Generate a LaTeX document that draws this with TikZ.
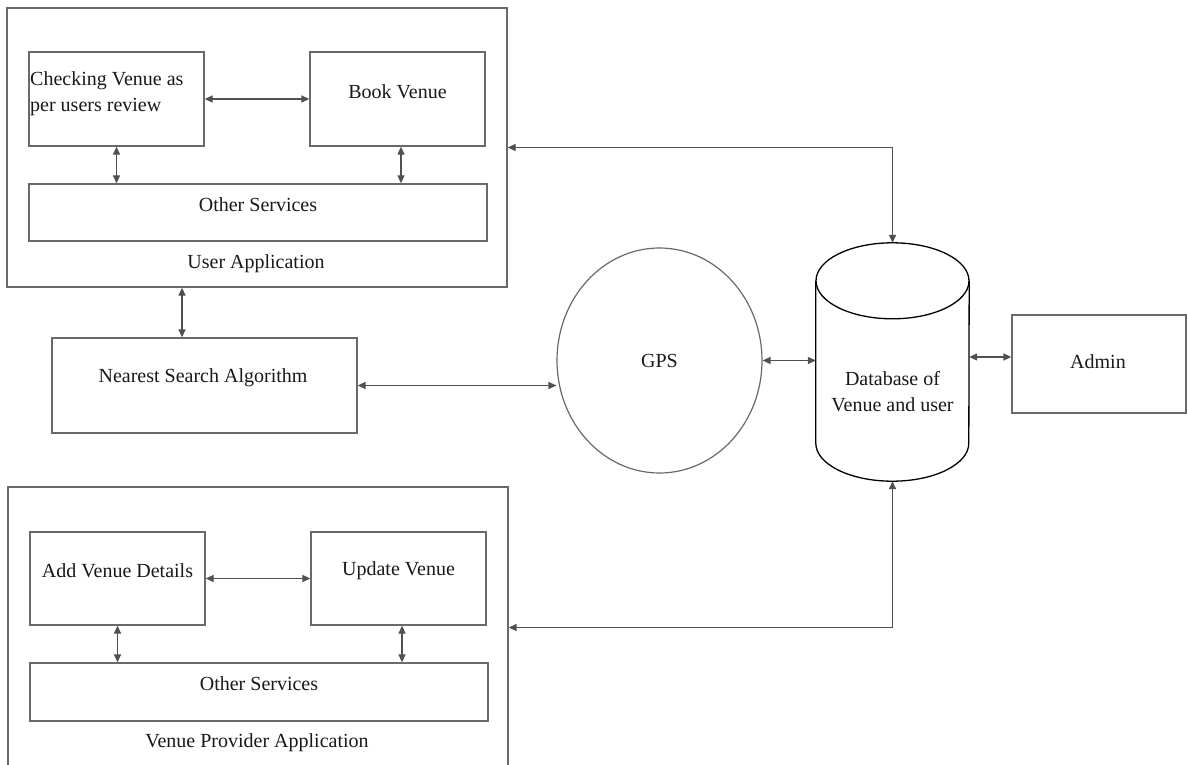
\documentclass[tikz,border=0pt]{standalone}
\usepackage{fontspec}
\setmainfont{Liberation Serif}
\usetikzlibrary{arrows.meta,shapes.geometric,calc}
\definecolor{boxc}{RGB}{105,105,105}
\definecolor{arrc}{RGB}{80,80,80}
\definecolor{txtc}{RGB}{25,25,25}
\begin{document}
\begin{tikzpicture}[x=1pt,y=-1pt,
 box/.style={draw=boxc, line width=1.3pt, rectangle, inner sep=0pt},
 txt/.style={font=\fontsize{20}{26}\selectfont, text=txtc, inner sep=0pt, align=center},
 bi/.style={draw=arrc, line width=1.3pt, {Triangle[length=8pt,width=7pt]}-{Triangle[length=8pt,width=7pt]}},
]
\useasboundingbox (0,0) rectangle (1187,765);
\fill[white] (0,0) rectangle (1187,765);

% User application
\node[box, minimum width=500pt, minimum height=279pt] (ua) at (257,147.5) {};
\node[box, minimum width=175pt, minimum height=94pt] (chk) at (116.5,99) {};
\node[box, minimum width=175pt, minimum height=94pt] (bv) at (397.5,99) {};
\node[box, minimum width=458pt, minimum height=57pt] (os1) at (258,212.5) {};

% Nearest search
\node[box, minimum width=305pt, minimum height=95pt] (nsa) at (204.5,385.5) {};

% GPS
\node[ellipse, draw=boxc, line width=1.2pt, minimum width=205pt, minimum height=225pt, inner sep=0pt] (gps) at (659.5,360.5) {};

% Database (cylinder)
\node[minimum width=153pt, minimum height=238pt, inner sep=0pt] (db) at (892.5,362) {};
\draw[black, line width=1.3pt] ($(db.north)+(0,38)$) ellipse [x radius=76.5pt, y radius=38pt];
\draw[black, line width=1.3pt] ($(db.north west)+(0,38)$) -- ($(db.south west)+(0,-38)$)
  arc[start angle=180, end angle=360, x radius=76.5pt, y radius=38pt] -- ($(db.north east)+(0,38)$);

% Admin
\node[box, minimum width=174pt, minimum height=98pt] (admin) at (1099,364) {};

% Venue provider application
\node[box, minimum width=500pt, minimum height=281pt] (vp) at (258,627.5) {};
\node[box, minimum width=175pt, minimum height=93pt] (avd) at (117.5,578.5) {};
\node[box, minimum width=175pt, minimum height=93pt] (uv) at (398.5,578.5) {};
\node[box, minimum width=458pt, minimum height=58pt] (os2) at (259,692) {};

% Texts
\node[txt, anchor=north west, align=left] (chkt) at (30,71) {Checking Venue as\\per users review};
\node[txt] (bvt) at ([yshift=7pt]bv.center) {Book Venue};
\node[txt] (os1t) at ([yshift=7.5pt]os1.center) {Other Services};
\node[txt] (uat) at (256,264) {User Application};
\node[txt] (nsat) at (203,378) {Nearest Search Algorithm};
\node[txt] (gpst) at (gps.center) {GPS};
\node[txt] (dbt) at (892.5,392) {Database of\\Venue and user};
\node[txt] (admt) at (1098,362) {Admin};
\node[txt] (avdt) at ([yshift=7.5pt]avd.center) {Add Venue Details};
\node[txt] (uvt) at ([yshift=7.5pt]uv.center) {Update Venue};
\node[txt] (os2t) at ([yshift=8pt]os2.center) {Other Services};
\node[txt] (vpt) at (257,743) {Venue Provider Application};

% Connectors
\draw[bi] (chk.east) -- (bv.west);
\draw[bi] (chk.south) -- (chk.south |- os1.north);
\draw[bi] ([xshift=3.5pt]bv.south) coordinate (b1) -- (b1 |- os1.north);
\draw[bi] (avd.east) -- (uv.west);
\draw[bi] (avd.south) -- (avd.south |- os2.north);
\draw[bi] ([xshift=3.5pt]uv.south) coordinate (u1) -- (u1 |- os2.north);
\draw[bi] ([xshift=-22.5pt]nsa.north) coordinate (n1) -- (n1 |- ua.south);
\draw[bi] (nsa.east) -- (nsa.east -| gps.west);
\draw[bi] (gps.east) -- (gps.east -| db.west);
\draw[bi] ([yshift=7pt]admin.west) coordinate (a1) -- (a1 -| db.east);
\draw[bi] (db.north) |- (ua.east);
\draw[bi] (db.south) |- (vp.east);
\end{tikzpicture}
\end{document}
